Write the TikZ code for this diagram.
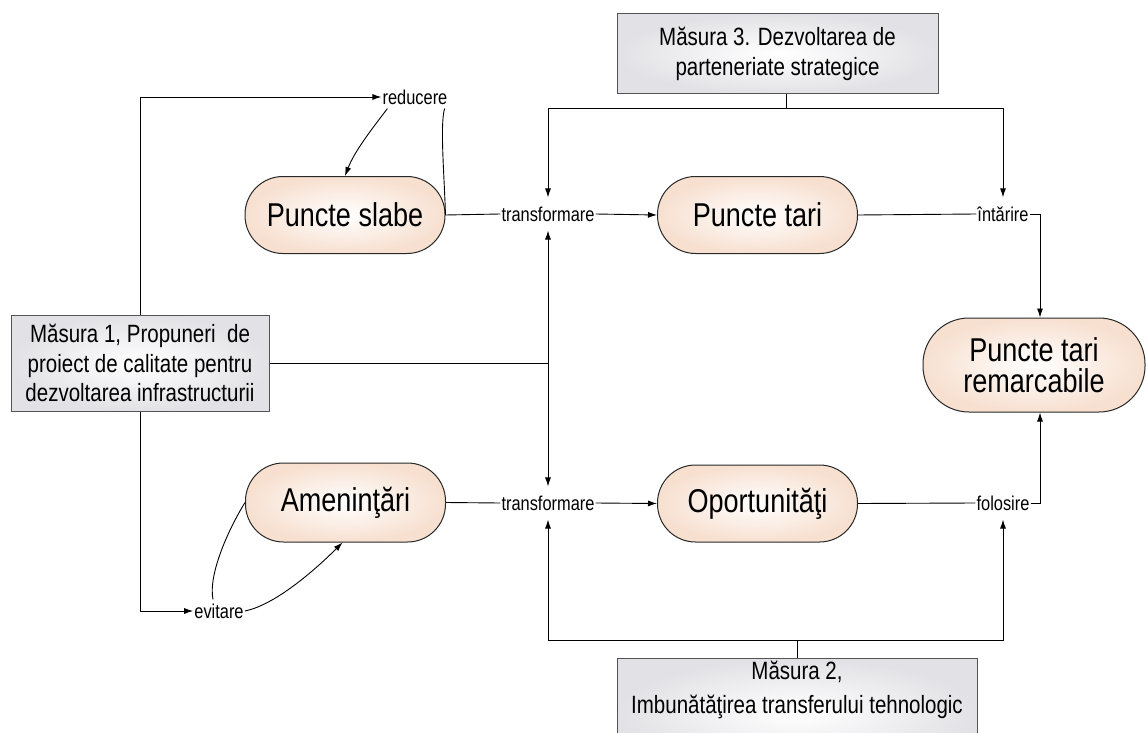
\documentclass[tikz,border=0pt]{standalone}
\usepackage{fontspec}
\setmainfont[FakeStretch=0.82]{Liberation Sans}
\usetikzlibrary{arrows.meta,calc}
\definecolor{peach}{RGB}{247,224,208}
\definecolor{boxgray}{RGB}{226,226,230}
\definecolor{edge}{RGB}{40,40,40}
\tikzset{
  pill/.style={draw=edge, line width=1pt, inner color=white, outer color=peach,
    minimum width=200pt, minimum height=77pt, rounded corners=38pt,
    font=\fontsize{33}{31}\selectfont, align=center},
  measure/.style={draw=edge!80, line width=1pt, inner color=white, outer color=boxgray,
    font=\fontsize{25}{29.5}\selectfont, align=center},
  lbl/.style={font=\fontsize{20}{20}\selectfont, inner xsep=1pt, inner ysep=9pt},
  conn/.style={line width=0.9pt, draw=black},
  arr/.style={conn, -{Latex[length=9pt,width=6pt]}}
}
\begin{document}
\begin{tikzpicture}[x=1pt,y=-1pt]
\useasboundingbox (0,0) rectangle (1146,733);
\fill[white] (0,0) rectangle (1146,733);
\clip (0,0) rectangle (1146,733);

% measure boxes
\node[measure, minimum width=321pt, minimum height=80pt] (m3) at (777.5,54) {Măsura 3. Dezvoltarea de\\parteneriate strategice};
\node[measure, minimum width=258pt, minimum height=96pt] (m1) at (140,363) {Măsura 1, Propuneri\ \ de\\proiect de calitate pentru\\dezvoltarea infrastructurii};
\node[measure, minimum width=360pt, minimum height=110pt, anchor=north] (m2) at (797,658) {};
\node[font=\fontsize{25}{34}\selectfont, align=center] (m2t) at (797,690) {Măsura 2,\\Imbunătăţirea transferului tehnologic};

% pills
\node[pill] (ps) at (345,215) {Puncte slabe};
\node[pill] (pt) at (757.5,215) {Puncte tari};
\node[pill, minimum width=222pt, minimum height=94pt, rounded corners=46pt] (rem) at (1034,365) {Puncte tari\\remarcabile};
\node[pill, minimum height=79pt] (am) at (345.5,502.5) {Ameninţări};
\node[pill] (op) at (757.5,503.5) {Oportunităţi};

% labels
\node[lbl] (t1) at (548,214) {transformare};
\node[lbl] (t2) at (548,503) {transformare};
\node[lbl] (int) at (1003,214) {întărire};
\node[lbl] (fol) at (1003,503) {folosire};
\node[lbl, inner ysep=2pt] (red) at (415,97) {reducere};
\node[lbl, inner ysep=2pt] (evi) at (219,611) {evitare};

% junctions
\coordinate (j3) at (786,108);
\coordinate (j2) at (797,640);
\coordinate (j1) at (548,363);
\coordinate (rtop) at (1040,214);
\coordinate (rbot) at (1040,503);

% measure 3
\draw[conn] (m3.south -| j3) -- (j3);
\draw[arr] (j3) -| (t1.north);
\draw[arr] (j3) -| (int.north);

% measure 2
\draw[conn] (m2.north) -- (j2);
\draw[arr] (j2) -| (t2.south);
\draw[arr] (j2) -| (fol.south);

% measure 1
\draw[conn] (m1.east) -- (j1);
\draw[arr] (j1) -- (t1.south);
\draw[arr] (j1) -- (t2.north);
\draw[arr] (m1.north) |- (red.west);
\draw[arr] (m1.south) |- (evi.west);

% main flows
\draw[conn] (ps.east) -- (t1.west);
\draw[arr] (t1.east) -- (pt.west);
\draw[conn] (pt.east) -- (int.west);
\draw[arr] (int.east) -- (rtop) -- (rtop |- rem.north);

\draw[conn] (am.east) -- (t2.west);
\draw[arr] (t2.east) -- (op.west);
\draw[conn] (op.east) -- (fol.west);
\draw[arr] (fol.east) -- (rbot) -- (rbot |- rem.south);

% loops
\draw[arr] ($(red.south west)+(6,2)$) .. controls (375,125) and (355,150) .. (ps.north);
\draw[conn] ($(red.south east)+(-4,2)$) .. controls (440,125) and (444,170) .. (ps.east);
\draw[conn] (am.west) .. controls (228,530) and (208,575) .. ($(evi.north)+(-6,-2)$);
\draw[arr] (evi.east) .. controls (275,605) and (315,570) .. ($(am.south)+(-3,0)$);
\end{tikzpicture}
\end{document}
